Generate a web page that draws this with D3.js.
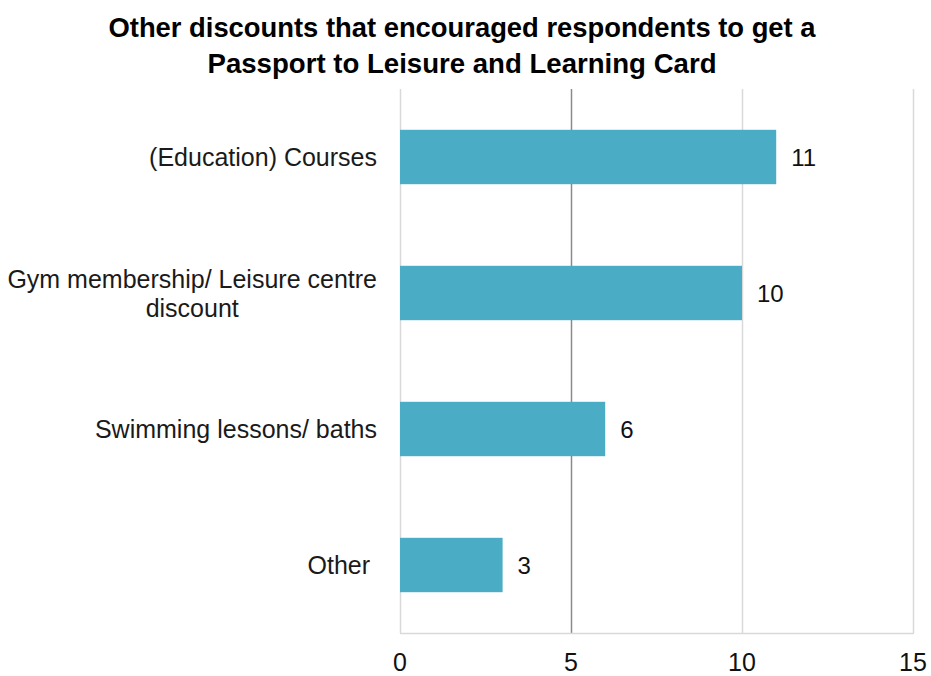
<!DOCTYPE html>
<html><head><meta charset="utf-8">
<script src="https://cdn.jsdelivr.net/npm/d3@7"></script>
<style>body{margin:0;background:#fff}svg{display:block}</style>
</head><body>
<svg id="c" width="931" height="676"></svg>
<script>
const titleLines = ["Other discounts that encouraged respondents to get a", "Passport to Leisure and Learning Card"];
const categories = ["(Education) Courses", "Gym membership/ Leisure centre\ndiscount", "Swimming lessons/ baths", "Other "];
const values = [11, 10, 6, 3];
const xTicks = [0, 5, 10, 15];

const svg = d3.select("#c");
const m = {left: 400, right: 913, top: 89, bottom: 633};
const x = d3.scaleLinear().domain([0, 15]).range([m.left, m.right]);
const y = d3.scaleBand().domain(categories).range([m.top, m.bottom]).paddingInner(0.6).paddingOuter(0.3);

// title
const tw = [707, 509];
svg.selectAll("text.title").data(titleLines).join("text")
  .attr("class","title")
  .attr("x", 462).attr("y", (d,i)=>37+i*36)
  .attr("text-anchor","middle")
  .attr("font-family","'Liberation Sans Narrow','Liberation Sans',Arial,sans-serif")
  .attr("font-weight","bold").attr("font-size",28)
  .attr("fill","#000")
  .attr("textLength",(d,i)=>tw[i]).attr("lengthAdjust","spacingAndGlyphs")
  .text(d=>d);

// gridlines
svg.append("g").selectAll("line").data(xTicks).join("line")
  .attr("x1",d=>x(d)+0.5).attr("x2",d=>x(d)+0.5)
  .attr("y1",m.top).attr("y2",m.bottom)
  .attr("stroke",d=>d===5?"#8a8a8a":"#d9d9d9").attr("stroke-width",1.5);
svg.append("line").attr("x1",x(0)).attr("x2",x(15)+1)
  .attr("y1",m.bottom+0.5).attr("y2",m.bottom+0.5)
  .attr("stroke","#d9d9d9").attr("stroke-width",1.5);

// bars
svg.append("g").selectAll("rect").data(values).join("rect")
  .attr("x",x(0)).attr("y",(d,i)=>y(categories[i]))
  .attr("width",d=>x(d)-x(0)).attr("height",y.bandwidth())
  .attr("fill","#4bacc6");

// value labels
svg.append("g").selectAll("text").data(values).join("text")
  .attr("x",d=>x(d)+15).attr("y",(d,i)=>y(categories[i])+y.bandwidth()/2+9)
  .attr("font-family","'Liberation Sans',Arial,sans-serif").attr("font-size",24)
  .attr("fill","#111").text(d=>d);

// category labels
const cl = svg.append("g").selectAll("text").data(categories).join("text")
  .attr("font-family","'Liberation Sans',Arial,sans-serif").attr("font-size",25)
  .attr("fill","#1a1a1a").style("white-space","pre");
cl.each(function(d){
  const lines = d.split("\n");
  const t = d3.select(this);
  const cy = y(d)+y.bandwidth()/2;
  lines.forEach((ln,j)=>{
    t.append("tspan").attr("x",377).attr("text-anchor","end")
      .attr("y", cy + 9 + (j-(lines.length-1)/2)*29).text(ln);
  });
});
cl.filter(d=>d.includes("\n")).each(function(){
  const ts = d3.select(this).selectAll("tspan").nodes();
  const w0 = ts[0].getComputedTextLength();
  const mid = 377 - w0/2;
  ts.forEach(n=>{d3.select(n).attr("x",mid).attr("text-anchor","middle");});
});

// x tick labels
svg.append("g").selectAll("text").data(xTicks).join("text")
  .attr("x",d=>x(d)).attr("y",671)
  .attr("text-anchor","middle")
  .attr("font-family","'Liberation Sans',Arial,sans-serif").attr("font-size",25)
  .attr("fill","#111").text(d=>d);
</script>
</body></html>
